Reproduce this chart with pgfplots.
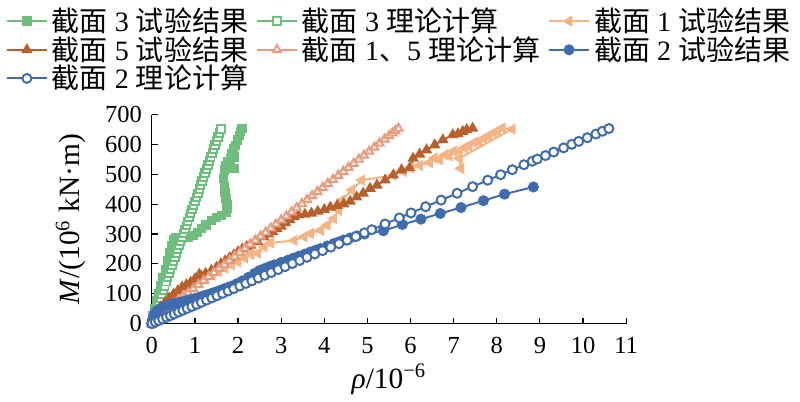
\documentclass[border=0pt]{standalone}
\usepackage{fontspec}
\setmainfont{Liberation Serif}
\newfontfamily\cjk{Noto Sans CJK SC}
\usepackage{pgfplots}
\pgfplotsset{compat=1.18}
\definecolor{cgreen}{RGB}{112,190,125}
\definecolor{cblue}{RGB}{63,108,173}
\definecolor{cdark}{RGB}{184,95,43}
\definecolor{clight}{RGB}{246,179,131}
\definecolor{csalmon}{RGB}{235,154,124}
\begin{document}
\begin{tikzpicture}
\begin{axis}[
  scale only axis, width=242pt, height=106.5pt,
  xmin=0, xmax=11, ymin=0, ymax=700,
  xtick={0,1,...,11}, ytick={0,100,...,700},
  axis x line*=bottom, axis y line*=left,
  tick align=inside, major tick length=3pt,
  every tick/.style={black, line width=0.6pt},
  axis line style={line width=0.6pt},
  /pgf/number format/assume math mode=true,
  tick label style={font=\fontsize{12.5}{12.5}\selectfont},
  xticklabel style={yshift=-3.5pt},
  yticklabel style={xshift=-1.5pt},
  label style={font=\fontsize{15}{15}\selectfont},
  xlabel={\textit{ρ}/10\textsuperscript{−6}},
  ylabel={\textit{M}/(10\textsuperscript{6} kN·m)},
  xlabel style={yshift=1.5pt},
  ylabel style={yshift=3pt},
  legend columns=3,
  legend cell align=left,
  legend style={draw=none, fill=none, at={(-0.321,1.552)}, anchor=north west,
    font=\fontsize{14.3}{15}\selectfont, row sep=-3pt,
    /tikz/every even column/.append style={column sep=2pt}},
  legend image code/.code={\draw[mark repeat=2,mark phase=2] plot coordinates {(0cm,0cm)(0.36cm,0cm)(0.72cm,0cm)};},
  every axis plot/.append style={line width=1pt},
]
\addplot[cgreen, mark=square*, mark size=1.9pt] coordinates {
(0,0)(0.03,25)(0.07,50)(0.11,75)(0.16,100)(0.21,128)(0.26,155)(0.31,182)(0.36,210)(0.41,238)(0.46,262)(0.5,280)(0.55,287)(0.62,287)(0.68,287)(0.74,288)(0.85,290)(0.96,295)(1.06,306)(1.15,318)(1.26,330)(1.38,345)(1.5,355)(1.62,362)(1.73,372)(1.75,385)(1.74,400)(1.72,420)(1.70,440)(1.68,460)(1.66,487)(1.68,515)(1.72,530)(1.76,543)(1.82,552)(1.91,558)(1.91,520)(1.88,560)(1.85,568)(1.9,585)(1.94,597)(1.99,616)(2.03,630)(2.06,644)(2.09,655)
};
\addlegendentry{{\cjk 截面} 3 {\cjk 试验结果}}
\addplot[cgreen, mark=square*, mark size=1.9pt, mark options={fill=white}] coordinates {
(0,0)(0.033,18.5)(0.067,32.0)(0.1,45.5)(0.133,59.0)(0.167,72.5)(0.2,86.0)(0.233,99.5)(0.267,113.0)(0.3,126.5)(0.333,140.0)(0.367,153.5)(0.4,167.0)(0.433,180.5)(0.467,194.0)(0.5,207.5)(0.533,221.0)(0.567,234.5)(0.6,248.0)(0.633,261.5)(0.667,275.0)(0.7,288.5)(0.733,302.0)(0.767,315.5)(0.8,329.0)(0.833,342.5)(0.867,356.0)(0.9,369.5)(0.933,383.0)(0.967,396.5)(1.0,410.0)(1.033,423.5)(1.067,437.0)(1.1,450.5)(1.133,464.0)(1.167,477.5)(1.2,491.0)(1.233,504.5)(1.267,518.0)(1.3,531.5)(1.333,545.0)(1.367,558.5)(1.4,572.0)(1.433,585.5)(1.467,599.0)(1.5,612.5)(1.533,626.0)(1.567,639.5)(1.6,653.0)
};
\addlegendentry{{\cjk 截面} 3 {\cjk 理论计算}}
\addplot[clight, mark=triangle*, mark size=2.4pt, mark options={rotate=90}] coordinates {
(0,0)(0.1,30)(0.2,50)(0.35,70)(0.5,86)(0.65,100)(0.8,113)(0.95,126)(1.1,138)(1.25,150)(1.4,162)(1.55,174)(1.7,186)(1.85,196)(2.0,206)(2.15,220)(2.3,232)(2.46,236)(2.61,257)(2.76,270)(3.3,279)(3.53,291)(3.68,302)(3.91,313)(4.07,330)(4.22,352)(4.33,380)(4.41,414)(4.64,448)(4.87,481)(5.6,497)(5.83,510)(6.0,522)(6.21,530)(6.44,540)(6.55,555)(6.67,550)(6.8,566)(6.9,562)(7.0,578)(7.13,577)(7.25,590)(7.36,594)(7.48,608)(7.59,610)(7.7,622)(7.82,627)(7.92,640)(8.02,644)(8.13,656)(8.36,652)(7.13,554)(7.17,520)
};
\addlegendentry{{\cjk 截面} 1 {\cjk 试验结果}}
\addplot[cdark, mark=triangle*, mark size=2.4pt] coordinates {
(0,0)(0.05,20)(0.12,38)(0.2,55)(0.3,70)(0.4,85)(0.5,98)(0.6,110)(0.7,122)(0.8,130)(0.9,138)(1.0,150)(1.1,165)(1.15,158)(1.25,168)(1.38,178)(1.5,188)(1.6,200)(1.7,210)(1.8,220)(1.9,230)(2.0,240)(2.1,250)(2.2,258)(2.3,262)(2.45,275)(2.6,290)(2.7,300)(2.8,308)(2.9,318)(3.0,326)(3.1,338)(3.2,348)(3.3,358)(3.4,364)(3.55,366)(3.7,370)(3.85,376)(4.0,382)(4.14,390)(4.3,396)(4.45,401)(4.6,410)(4.75,424)(4.9,437)(5.06,453)(5.22,464)(5.41,481)(5.6,498)(5.79,515)(5.98,522)(6.06,554)(6.21,568)(6.37,582)(6.56,599)(6.75,616)(6.98,633)(7.1,636)(7.21,644)(7.3,650)(7.44,655)
};
\addlegendentry{{\cjk 截面} 5 {\cjk 试验结果}}
\addplot[csalmon, mark=triangle*, mark size=2.4pt, mark options={fill=white}] coordinates {
(0,0)(0.12,21.6)(0.24,35.1)(0.36,48.7)(0.48,62.2)(0.6,75.8)(0.72,89.4)(0.84,102.9)(0.96,116.5)(1.08,130.0)(1.2,143.6)(1.32,157.2)(1.44,170.7)(1.56,184.3)(1.68,197.8)(1.8,211.4)(1.92,225.0)(2.04,238.5)(2.16,252.1)(2.28,265.6)(2.4,279.2)(2.52,292.8)(2.64,306.3)(2.76,319.9)(2.88,333.4)(3.0,347.0)(3.12,360.6)(3.24,374.1)(3.36,387.7)(3.48,401.2)(3.6,414.8)(3.72,428.4)(3.84,441.9)(3.96,455.5)(4.08,469.0)(4.2,482.6)(4.32,496.2)(4.44,509.7)(4.56,523.3)(4.68,536.8)(4.8,550.4)(4.92,564.0)(5.04,577.5)(5.16,591.1)(5.28,604.6)(5.4,618.2)(5.5,629.5)(5.58,638.5)(5.65,646.5)(5.72,654.4)
};
\addlegendentry{{\cjk 截面} 1{\cjk 、}5 {\cjk 理论计算}}
\addplot[cblue, mark=*, mark size=2.3pt] coordinates {
(0,0)(0.02,15)(0.05,28)(0.09,38)(0.14,45)(0.2,51)(0.27,56)(0.35,61)(0.44,65)(0.53,68)(0.62,70)(0.71,73)(0.8,77)(0.9,80)(1.0,84)(1.1,88)(1.2,93)(1.3,97)(1.4,102)(1.49,106)(1.58,111)(1.67,116)(1.76,121)(1.86,126)(1.98,134)(2.1,143)(2.24,155)(2.38,168)(2.5,178)(2.61,184)(2.73,191)(2.84,197)(3.0,205)(3.15,212)(3.28,219)(3.41,226)(3.55,233)(3.68,240)(3.8,246)(3.91,251)(4.07,260)(4.22,268)(4.34,274)(4.45,280)(4.6,287)(4.76,294)(4.93,300)(5.37,311)(5.81,332)(6.24,350)(6.69,369)(7.17,389)(7.69,412)(8.18,434)(8.85,458)
};
\addlegendentry{{\cjk 截面} 2 {\cjk 试验结果}}
\addplot[cblue, mark=*, mark size=2.3pt, mark options={fill=white}] coordinates {
(0,0)(0.08,4.9)(0.16,9.9)(0.25,15.4)(0.34,21.0)(0.43,26.5)(0.52,32.1)(0.62,38.3)(0.72,44.4)(0.82,50.6)(0.93,57.4)(1.04,64.2)(1.15,71.0)(1.27,78.4)(1.39,85.8)(1.51,93.2)(1.64,101.2)(1.77,109.2)(1.9,117.2)(2.04,125.9)(2.18,134.5)(2.32,143.1)(2.47,152.4)(2.62,161.7)(2.77,170.9)(2.93,180.8)(3.09,190.7)(3.26,201.1)(3.43,211.6)(3.6,222.1)(3.78,233.2)(3.96,244.3)(4.15,256.1)(4.34,267.8)(4.53,279.5)(4.73,291.8)(4.93,304.2)(5.1,314.7)(5.41,333.8)(5.74,354.2)(6.01,370.8)(6.35,391.8)(6.71,414.0)(7.08,436.8)(7.44,459.0)(7.79,480.6)(8.09,499.2)(8.36,515.8)(8.63,532.5)(8.82,544.2)(8.94,551.6)(9.13,563.3)(9.32,575.0)(9.55,589.2)(9.74,601.0)(9.9,610.8)(10.1,623.2)(10.3,635.5)(10.45,644.8)(10.6,654.0)
};
\addlegendentry{{\cjk 截面} 2 {\cjk 理论计算}}
\end{axis}
\end{tikzpicture}
\end{document}
